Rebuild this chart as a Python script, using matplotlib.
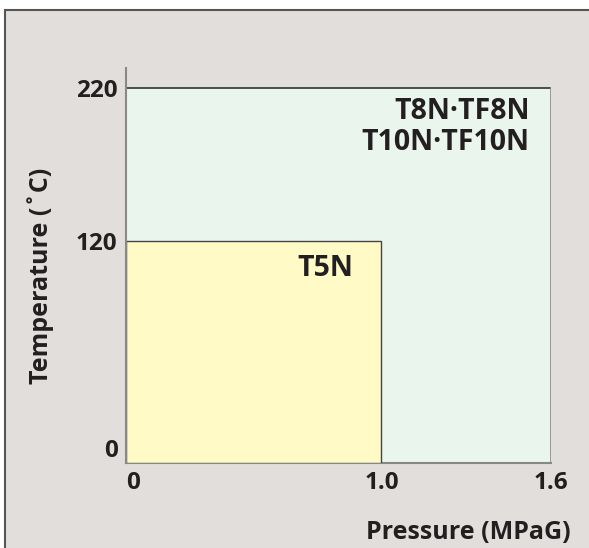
import numpy as np
import matplotlib.pyplot as plt
from matplotlib.patches import Rectangle

# ranges of the two product groups
groups = ['T8N·TF8N\nT10N·TF10N', 'T5N']
max_pressure = [1.6, 1.0]      # MPaG
max_temperature = [220, 120]   # °C
fills = ['#eaf5ed', '#fffac6']

x_ticks = [0, 1.0, 1.6]
x_ticklabels = ['0', '1.0', '1.6']
y_ticks = [0, 120, 220]
y_ticklabels = ['0', '120', '220']

# the drawing is schematic: piecewise-linear axes
xp, xq = [0, 1.0, 1.6, 3.2], [0, 0.601, 1, 2]
yp, yq = [0, 120, 220, 440], [0, 0.591, 1, 2]

plt.rcParams['font.family'] = ['Open Sans', 'DejaVu Sans']
plt.rcParams['font.weight'] = 'bold'
plt.rcParams['axes.labelweight'] = 'bold'

fig = plt.figure(figsize=(5.89, 5.48), dpi=100)
fig.patch.set_facecolor('white')
# grey panel with frame on top/left
fig.patches.append(Rectangle((4.5 / 589, -0.1), 1.5, (538 / 548) + 0.1,
                             transform=fig.transFigure, facecolor='#e2dedb',
                             edgecolor='#555555', linewidth=1.5, zorder=-5))

ax = fig.add_axes([126 / 589, (548 - 463) / 548, 425 / 589, 395 / 548])
ax.set_facecolor('none')
ax.set_xscale('function', functions=(lambda v: np.interp(v, xp, xq),
                                     lambda v: np.interp(v, xq, xp)))
ax.set_yscale('function', functions=(lambda v: np.interp(v, yp, yq),
                                     lambda v: np.interp(v, yq, yp)))
ax.set_xlim(0, 1.6)
ax.set_ylim(0, 220 + 0.053 * 220)

# outer (green) region
ax.bar(0, max_temperature[0], width=max_pressure[0], align='edge',
       color=fills[0], edgecolor='none', zorder=1)
ax.plot([0, max_pressure[0]], [max_temperature[0]] * 2, color='#333333', lw=1.2, zorder=2)
ax.plot([max_pressure[0]] * 2, [0, max_temperature[0]], color='#888888', lw=1.2, zorder=2)
ax.plot([0, max_pressure[0]], [0, 0], color='#888888', lw=1.5, zorder=2, clip_on=False)
# inner (yellow) region
ax.bar(0, max_temperature[1], width=max_pressure[1], align='edge',
       color=fills[1], edgecolor='#444444', linewidth=1.0, zorder=3)

ax.text(1.525, 214, groups[0], ha='right', va='top', fontsize=20.5,
        linespacing=1.1, color='#231f20')
ax.text(0.89, 113, groups[1], ha='right', va='top', fontsize=20.5, color='#231f20')

for s in ['top', 'right', 'bottom']:
    ax.spines[s].set_visible(False)
ax.spines['left'].set_color('#888888')
ax.spines['left'].set_linewidth(1.5)
ax.spines['left'].set_zorder(4)

ax.set_xticks(x_ticks)
ax.set_xticklabels(x_ticklabels, fontsize=17.5, color='#231f20')
ax.set_yticks(y_ticks)
ax.set_yticklabels(y_ticklabels, fontsize=17.5, color='#231f20')
ax.tick_params(length=0, pad=6)
ax.get_xticklabels()[0].set_ha('left')
ax.get_yticklabels()[0].set_va('bottom')

ax.set_xlabel('Pressure (MPaG)', fontsize=18, color='#231f20')
ax.xaxis.set_label_coords(1.045, -0.175)
ax.xaxis.label.set_ha('right')
ax.xaxis.label.set_va('center')
ax.set_ylabel('Temperature (˚C)', fontsize=18, color='#231f20')
ax.yaxis.set_label_coords(-0.2, 0.475)
ax.yaxis.label.set_va('center')

fig.savefig('out.png', dpi=100)
